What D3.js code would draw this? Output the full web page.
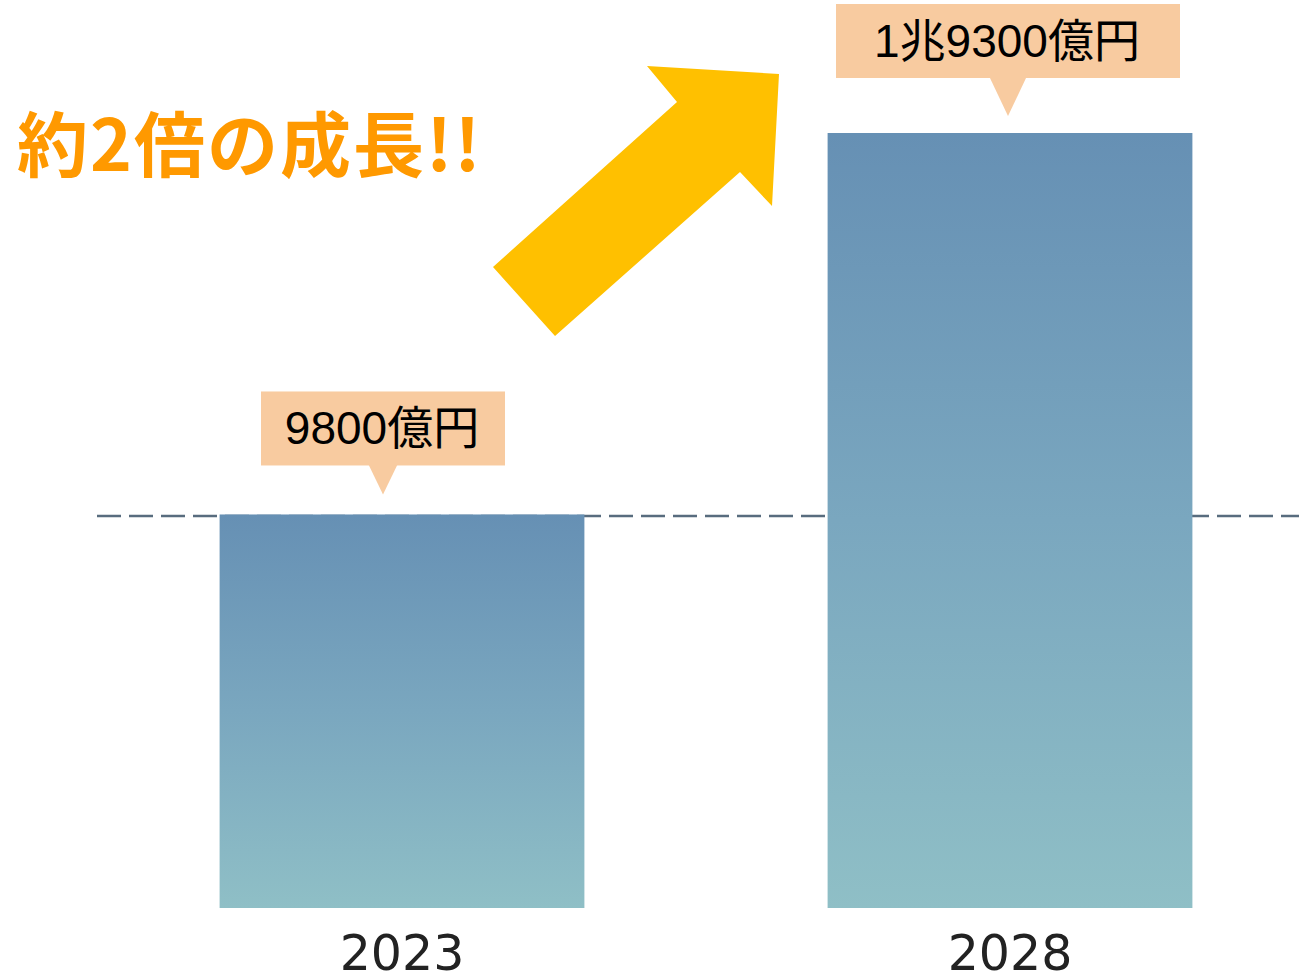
<!DOCTYPE html>
<html>
<head>
<meta charset="utf-8">
<script src="https://cdn.jsdelivr.net/npm/d3@7"></script>
<style>
  html, body { margin: 0; padding: 0; background: #fff; }
  svg { display: block; }
</style>
</head>
<body>
<div id="chart"></div>
<script>
/* Market size 2023 vs 2028 — two gradient bars with callout labels. */
const years = ["2023", "2028"];
const values = [9800, 19300];           // 億円
const valueLabels = ["9800億円", "1兆9300億円"];
const headline = "約2倍の成長!!";
const refValue = 9800;                   // dashed reference line

const W = 1299, H = 978;
const svg = d3.select("#chart").append("svg").attr("width", W).attr("height", H);

const x = d3.scaleBand().domain(years).range([98, 1314]).paddingInner(0.4).paddingOuter(0.2);
const y = d3.scaleLinear().domain([0, 19300]).range([908, 133]);

const defs = svg.append("defs");
const grad = defs.append("linearGradient").attr("id", "barGrad")
  .attr("x1", 0).attr("y1", 0).attr("x2", 0).attr("y2", 1);
grad.append("stop").attr("offset", "0%").attr("stop-color", "#6690b4");
grad.append("stop").attr("offset", "50%").attr("stop-color", "#7aa7bf");
grad.append("stop").attr("offset", "100%").attr("stop-color", "#8fbfc6");

// reference line at 2023 level
svg.append("line")
  .attr("x1", 97).attr("x2", W).attr("y1", y(refValue) + 1.5).attr("y2", y(refValue) + 1.5)
  .attr("stroke", "#586c7e").attr("stroke-width", 2.5).attr("stroke-dasharray", "24 8");

// bars
svg.selectAll("rect.bar").data(years).join("rect").attr("class", "bar")
  .attr("x", d => x(d)).attr("width", x.bandwidth())
  .attr("y", (d, i) => y(values[i])).attr("height", (d, i) => y(0) - y(values[i]))
  .attr("fill", "url(#barGrad)");

// x axis labels
svg.selectAll("text.year").data(years).join("text").attr("class", "year")
  .attr("x", d => x(d) + x.bandwidth() / 2).attr("y", 970)
  .attr("text-anchor", "middle")
  .style("font-family", "'DejaVu Sans', sans-serif").style("font-size", "49px")
  .attr("fill", "#222").text(d => d);

// callouts
const boxX = [261, 836], boxW = [244, 344], boxH = 74;
const tipGap = [20, 17], triH = [29, 38], triHalf = [14.5, 18.5], tipShift = [-19, -2];
years.forEach((yr, i) => {
  const cx = x(yr) + x.bandwidth() / 2 + tipShift[i];
  const tipY = y(values[i]) - tipGap[i];
  const bottom = tipY - triH[i];
  const top = bottom - boxH;
  const g = svg.append("g");
  g.append("rect").attr("x", boxX[i]).attr("y", top).attr("width", boxW[i]).attr("height", boxH)
    .attr("fill", "#f8cba0");
  g.append("path")
    .attr("d", `M${cx - triHalf[i]},${bottom - 1} L${cx + triHalf[i]},${bottom - 1} L${cx},${tipY} Z`)
    .attr("fill", "#f8cba0");
  g.append("text")
    .attr("x", boxX[i] + boxW[i] / 2 - 1).attr("y", top + boxH / 2 + 16)
    .attr("text-anchor", "middle")
    .style("font-family", "'Liberation Sans', 'Noto Sans CJK JP', sans-serif")
    .style("font-size", "46px").attr("fill", "#000")
    .text(valueLabels[i]);
});

// growth arrow
const arrowPts = [[493, 267], [677, 102], [647, 66], [779, 74], [772, 206], [740, 172], [555, 336]];
svg.append("path").attr("d", d3.line()(arrowPts) + "Z").attr("fill", "#ffc000");

// headline
svg.append("text")
  .attr("x", 17).attr("y", 171)
  .style("font-family", "'Noto Sans CJK JP', sans-serif").style("font-weight", 700)
  .style("font-size", "71px").style("letter-spacing", "2px").attr("fill", "#ff9900")
  .text(headline);
</script>
</body>
</html>
